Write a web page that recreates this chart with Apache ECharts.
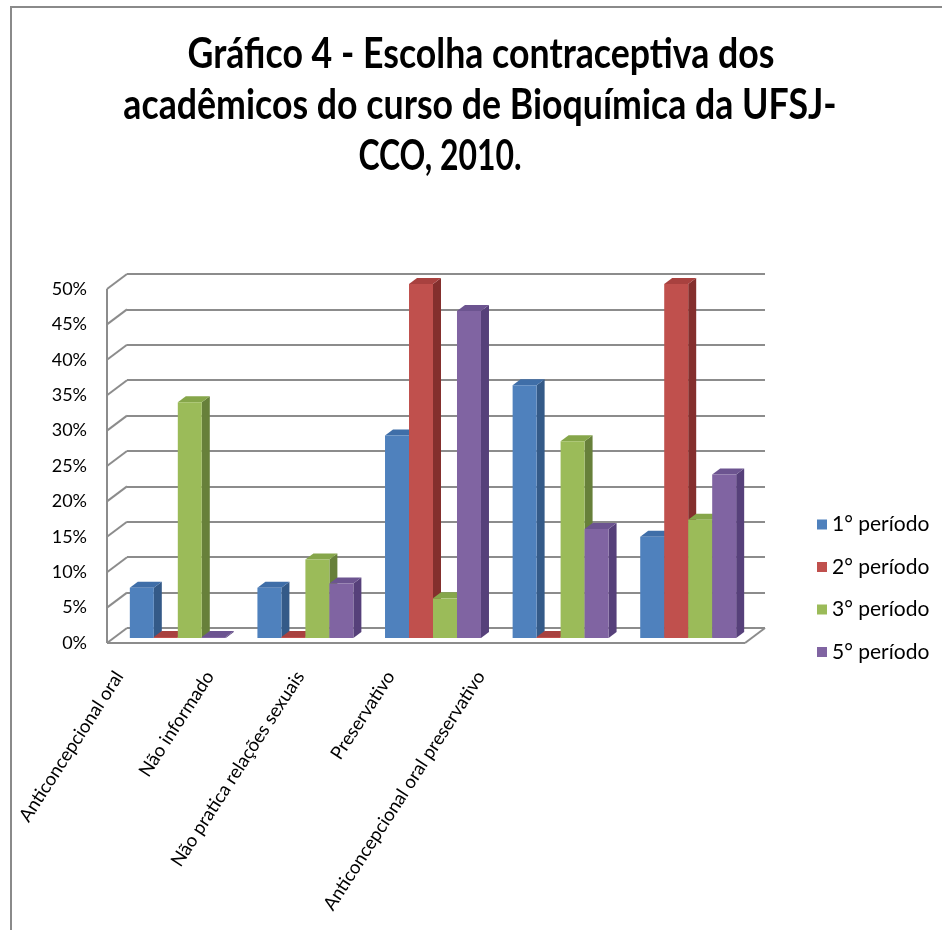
<!DOCTYPE html>
<html>
<head>
<meta charset="utf-8">
<script src="https://cdn.jsdelivr.net/npm/echarts@6/dist/echarts.min.js"></script>
<style>html,body{margin:0;padding:0;background:#fff;}#c{width:942px;height:930px;}</style>
</head>
<body>
<div id="c"></div>
<script>
const categories = ['Anticoncepcional oral', 'Não informado', 'Não pratica relações sexuais', 'Preservativo', 'Anticoncepcional oral preservativo'];
const periods = ['1° período', '2° período', '3° período', '5° período'];
const p1 = [7.1, 7.1, 28.6, 35.7, 14.3];
const p2 = [0, 0, 50, 0, 50];
const p3 = [33.3, 11.1, 5.6, 27.8, 16.7];
const p5 = [0, 7.7, 46.2, 15.4, 23.1];
const yTicks = [0, 5, 10, 15, 20, 25, 30, 35, 40, 45, 50];
const titleLines = ['Gráfico 4 - Escolha contraceptiva dos', 'acadêmicos do curso de Bioquímica da UFSJ-', 'CCO, 2010.'];

const seriesValues = [p1, p2, p3, p5];
const faces = ['#4F81BD', '#C0504D', '#9BBB59', '#8064A2'];
const sides = ['#345A88', '#842F2D', '#67803A', '#56407A'];
const tops = ['#3F6EA8', '#A8413F', '#86A64A', '#6C5490'];

const FONT = 'Lato';
const WX = 20, WY = -15;     // wall depth
const BX = 7, BY = -5;       // bar position in depth
const DX = 8, DY = -6;       // bar depth
const BAR_FRAC = 0.188;

function barRenderer(s) {
  return function (params, api) {
    const cat = api.value(0), v = api.value(1);
    const base = api.coord([cat, 0]);
    const topP = api.coord([cat, v]);
    const band = api.size([1, 0])[0];
    const w = band * BAR_FRAC;
    const left = base[0] + BX - 2 * w + s * w;
    const y0 = base[1] + BY;
    let y1 = topP[1] + BY;
    if (y0 - y1 < 1) y1 = y0 - 1;
    return {
      type: 'group',
      children: [
        { type: 'polygon', shape: { points: [[left + w, y1], [left + w + DX, y1 + DY], [left + w + DX, y0 + DY], [left + w, y0]] }, style: { fill: sides[s] } },
        { type: 'polygon', shape: { points: [[left, y1], [left + DX, y1 + DY], [left + w + DX, y1 + DY], [left + w, y1]] }, style: { fill: tops[s] } },
        { type: 'rect', shape: { x: left, y: y1, width: w, height: y0 - y1 }, style: { fill: faces[s] } }
      ]
    };
  };
}

function wallRenderer(params, api) {
  const cs = params.coordSys;
  const v = api.value(1);
  const y = api.coord([0, v])[1];
  const ls = { stroke: '#8c8c8c', lineWidth: 2 };
  const children = [
    { type: 'line', shape: { x1: cs.x, y1: y, x2: cs.x + WX, y2: y + WY }, style: ls }
  ];
  if (params.dataIndex === 0) {
    const yTop = api.coord([0, yTicks[yTicks.length - 1]])[1];
    children.push({ type: 'line', shape: { x1: cs.x, y1: y, x2: cs.x, y2: yTop }, style: ls });
    children.push({ type: 'line', shape: { x1: cs.x, y1: y, x2: cs.x + cs.width, y2: y }, style: ls });
    children.push({ type: 'line', shape: { x1: cs.x + cs.width, y1: y, x2: cs.x + cs.width + WX, y2: y + WY }, style: ls });
  }
  return { type: 'group', children: children };
}

const chart = echarts.init(document.getElementById('c'));

const series = seriesValues.map((vals, s) => ({
  name: periods[s],
  type: 'custom',
  xAxisIndex: 0, yAxisIndex: 0,
  renderItem: barRenderer(s),
  itemStyle: { color: faces[s] },
  encode: { x: 0, y: 1 },
  data: vals.map((v, i) => [i, v]),
  z: 3
}));
series.unshift({
  type: 'custom',
  xAxisIndex: 0, yAxisIndex: 0,
  renderItem: wallRenderer,
  encode: { x: 0, y: 1 },
  data: yTicks.map(v => [0, v]),
  silent: true,
  z: 1
});

const titleCenters = [481, 480, 440];
const titleYs = [54, 105, 156];
const titleScale = [0.85, 0.85, 0.76];

chart.setOption({
  animation: false,
  backgroundColor: '#ffffff',
  graphic: [
    { type: 'rect', shape: { x: 11, y: 7, width: 1000, height: 1000 }, style: { fill: 'none', stroke: '#8a8a8a', lineWidth: 2 }, z: 0 }
  ].concat(titleLines.map((t, i) => ({
    type: 'text', x: titleCenters[i], y: titleYs[i], scaleX: titleScale[i],
    style: { text: t, font: 'bold 42px ' + FONT, fill: '#000', textAlign: 'center', textVerticalAlign: 'middle' }
  }))),
  legend: {
    orient: 'vertical', left: 812, top: 509,
    itemWidth: 10, itemHeight: 10, itemGap: 21.5,
    icon: 'rect',
    data: periods,
    textStyle: { fontFamily: FONT, fontSize: 21, color: '#000' }
  },
  grid: [
    { left: 107, top: 289, width: 638, height: 354, containLabel: false, outerBoundsMode: 'none' },
    { left: 127, top: 274, width: 638, height: 354, containLabel: false, outerBoundsMode: 'none' },
    { left: 74, top: 289, width: 452, height: 354, containLabel: false, outerBoundsMode: 'none' }
  ],
  xAxis: [
    { type: 'category', gridIndex: 0, data: categories, axisLine: { show: false }, axisTick: { show: false }, axisLabel: { show: false } },
    { type: 'category', gridIndex: 1, data: categories, show: false },
    { type: 'category', gridIndex: 2, data: categories, axisLine: { show: false }, axisTick: { show: false },
      axisLabel: { rotate: 57, margin: 30, fontFamily: FONT, fontSize: 18.5, color: '#000', interval: 0 } }
  ],
  yAxis: [
    { type: 'value', gridIndex: 0, min: 0, max: 50, interval: 5, axisLine: { show: false }, axisTick: { show: false }, splitLine: { show: false },
      axisLabel: { formatter: '{value}%', margin: 20, fontFamily: FONT, fontSize: 18, color: '#000' } },
    { type: 'value', gridIndex: 1, min: 0, max: 50, interval: 5, axisLine: { show: false }, axisTick: { show: false }, axisLabel: { show: false },
      splitLine: { show: true, lineStyle: { color: '#8c8c8c', width: 2 } } },
    { type: 'value', gridIndex: 2, min: 0, max: 50, show: false }
  ],
  series: series
});
</script>
</body>
</html>
